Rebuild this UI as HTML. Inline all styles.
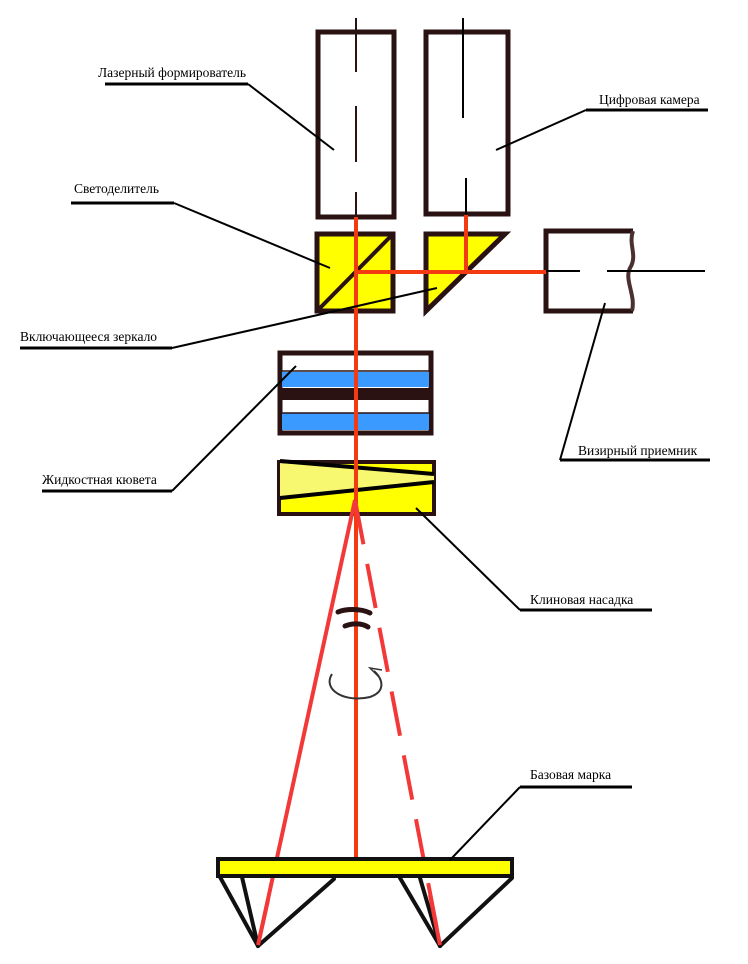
<!DOCTYPE html>
<html><head><meta charset="utf-8"><style>
html,body{margin:0;padding:0;background:#fff;}
svg{display:block;}
text{font-family:"Liberation Serif","Noto Serif CJK SC",serif;font-size:13.5px;fill:#000;}
</style></head><body>
<svg width="748" height="964" viewBox="0 0 748 964" xmlns="http://www.w3.org/2000/svg">
<!-- laser box -->
<rect x="318" y="32" width="76" height="185" fill="#fff" stroke="#2a1212" stroke-width="5"/>
<g stroke="#2a1212" stroke-width="2">
<line x1="356" y1="18" x2="356" y2="72"/><line x1="356" y1="106" x2="356" y2="162"/><line x1="356" y1="192" x2="356" y2="218"/>
</g>
<!-- camera box -->
<rect x="426" y="32" width="82" height="182" fill="#fff" stroke="#2a1212" stroke-width="5"/>
<g stroke="#000" stroke-width="2">
<line x1="463" y1="18" x2="463" y2="118"/><line x1="466" y1="178" x2="466" y2="214"/>
</g>
<!-- beam splitter -->
<rect x="317" y="234" width="76" height="77" fill="#ff0" stroke="#2a1212" stroke-width="5"/>
<line x1="319" y1="309" x2="391" y2="236" stroke="#2a1212" stroke-width="4"/>
<!-- mirror -->
<polygon points="426,234 505,234 426,311" fill="#ff0" stroke="#2a1212" stroke-width="5" stroke-linejoin="miter"/>
<!-- receiver -->
<path d="M633,231 L546,231 L546,311 L633,311" fill="#fff" stroke="#2a1212" stroke-width="5"/>
<path d="M633,231 C628,245 638,255 630,268 C624,280 636,295 632,311" fill="none" stroke="#4a3030" stroke-width="4"/>
<line x1="546" y1="271" x2="580" y2="271" stroke="#000" stroke-width="2"/>
<line x1="607" y1="271" x2="705" y2="271" stroke="#000" stroke-width="2"/>
<!-- red beams top -->
<line x1="466" y1="215" x2="466" y2="272" stroke="#f33a10" stroke-width="4"/>
<line x1="356" y1="272" x2="546" y2="272" stroke="#f33a10" stroke-width="4"/>
<!-- cuvette -->
<rect x="280" y="353" width="151" height="80" fill="#fff" stroke="#2a1212" stroke-width="5"/>
<rect x="282" y="372" width="147" height="15" fill="#3a9aff"/>
<rect x="282" y="388" width="147" height="12" fill="#2a1212"/>
<rect x="282" y="413" width="147" height="17" fill="#3a9aff"/>
<line x1="282" y1="371" x2="429" y2="371" stroke="#2a1212" stroke-width="1.5"/>
<line x1="282" y1="413" x2="429" y2="413" stroke="#2a1212" stroke-width="1.5"/>
<!-- wedge -->
<rect x="279" y="462" width="155" height="52" fill="#ff0" stroke="#2a1212" stroke-width="4"/>
<polygon points="280,463 280,498 434,482 434,474" fill="#f8f870"/>
<line x1="280" y1="461" x2="434" y2="474" stroke="#000" stroke-width="4"/>
<line x1="280" y1="498" x2="434" y2="482" stroke="#000" stroke-width="4"/>
<!-- main vertical beam -->
<line x1="356" y1="217" x2="356" y2="860" stroke="#f33a10" stroke-width="4"/>
<!-- cone -->
<line x1="355" y1="500" x2="258" y2="945" stroke="#f33838" stroke-width="4"/>
<line x1="355" y1="500" x2="440" y2="945" stroke="#f33838" stroke-width="4" stroke-dasharray="45,20"/>
<!-- break marks -->
<path d="M338,612 C345,609 360,608 370,613" fill="none" stroke="#2a1212" stroke-width="5" stroke-linecap="round"/>
<path d="M345,626 C352,623 362,623 368,627" fill="none" stroke="#2a1212" stroke-width="5" stroke-linecap="round"/>
<!-- rotation arrow -->
<path d="M332,674 C322,690 345,703 370,697 C385,692 384,680 374,671" fill="none" stroke="#333" stroke-width="2"/>
<path d="M378,676 L370,668 L382,670" fill="none" stroke="#333" stroke-width="1.5"/>
<!-- base -->
<rect x="218" y="859" width="294" height="17" fill="#ff0" stroke="#111" stroke-width="4"/>
<g stroke="#111" stroke-width="4" stroke-linecap="round">
<line x1="220" y1="877" x2="258" y2="946"/><line x1="242" y1="877" x2="258" y2="946"/><line x1="334" y1="879" x2="258" y2="946"/>
<line x1="400" y1="878" x2="440" y2="946"/><line x1="420" y1="878" x2="440" y2="946"/><line x1="512" y1="878" x2="440" y2="946"/>
</g>
<line x1="268" y1="900" x2="258" y2="945" stroke="#f33838" stroke-width="4"/>
<line x1="430" y1="895" x2="440" y2="945" stroke="#f33838" stroke-width="4"/>

<!-- labels (on top) -->
<text x="98" y="77">Лазерный формирователь</text>
<line x1="105" y1="84" x2="248" y2="84" stroke="#000" stroke-width="3"/>
<line x1="248" y1="84" x2="334" y2="150" stroke="#000" stroke-width="2"/>
<text x="599" y="104">Цифровая камера</text>
<line x1="586" y1="110" x2="708" y2="110" stroke="#000" stroke-width="3"/>
<line x1="586" y1="110" x2="496" y2="150" stroke="#000" stroke-width="2"/>
<text x="74" y="193">Светоделитель</text>
<line x1="71" y1="203" x2="174" y2="203" stroke="#000" stroke-width="3"/>
<line x1="174" y1="203" x2="330" y2="268" stroke="#000" stroke-width="2"/>
<text x="20" y="341">Включающееся  зеркало</text>
<line x1="20" y1="348" x2="172" y2="348" stroke="#000" stroke-width="3"/>
<line x1="172" y1="348" x2="437" y2="288" stroke="#000" stroke-width="2"/>
<text x="42" y="484">Жидкостная кювета</text>
<line x1="42" y1="491" x2="172" y2="491" stroke="#000" stroke-width="3"/>
<line x1="172" y1="491" x2="296" y2="366" stroke="#000" stroke-width="2"/>
<text x="578" y="455">Визирный приемник</text>
<line x1="560" y1="460" x2="710" y2="460" stroke="#000" stroke-width="3"/>
<line x1="560" y1="460" x2="605" y2="303" stroke="#000" stroke-width="2"/>
<text x="530" y="604">Клиновая насадка</text>
<line x1="520" y1="610" x2="652" y2="610" stroke="#000" stroke-width="3"/>
<line x1="520" y1="610" x2="416" y2="508" stroke="#000" stroke-width="2"/>
<text x="530" y="779">Базовая марка</text>
<line x1="520" y1="787" x2="632" y2="787" stroke="#000" stroke-width="3"/>
<line x1="520" y1="787" x2="450" y2="860" stroke="#000" stroke-width="2"/>
</svg>
</body></html>
